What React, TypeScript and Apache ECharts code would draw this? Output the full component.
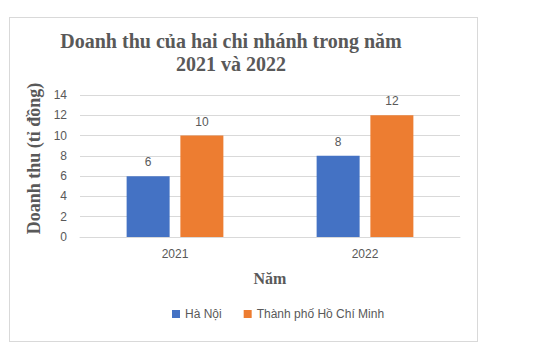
import React, { useEffect, useRef } from "react";
import * as echarts from "echarts";

const categories = ["2021", "2022"];
const haNoi = [6, 8];
const hcm = [10, 12];
const seriesNames = ["Hà Nội", "Thành phố Hồ Chí Minh"];
const titleText = "Doanh thu của hai chi nhánh trong năm\n2021 và 2022";
const yAxisName = "Doanh thu (tỉ đồng)";
const xAxisName = "Năm";

const gray = "#595959";
const sans = "'Liberation Sans', Arial, sans-serif";
const serif = "'Liberation Serif', 'Times New Roman', serif";

export default function App() {
  const ref = useRef<HTMLDivElement>(null);
  useEffect(() => {
    if (!ref.current) return;
    const chart = echarts.init(ref.current, undefined, { renderer: "svg" });
    chart.setOption({
      animation: false,
      backgroundColor: "#ffffff",
      graphic: [
        {
          type: "text",
          x: 221,
          y: 11,
          style: {
            text: titleText,
            align: "center",
            verticalAlign: "top",
            font: `bold 20px ${serif}`,
            lineHeight: 23,
            fill: gray,
          },
        },
        {
          type: "text",
          x: 23.5,
          y: 140.5,
          rotation: Math.PI / 2,
          style: {
            text: yAxisName,
            align: "center",
            verticalAlign: "middle",
            font: `bold 18px ${serif}`,
            fill: gray,
          },
        },
      ],
      legend: {
        left: 157,
        top: 285,
        itemWidth: 8,
        itemHeight: 8,
        itemGap: 22,
        icon: "rect",
        textStyle: { fontFamily: sans, fontSize: 12, color: gray },
        data: seriesNames,
      },
      grid: { left: 70, right: 17, top: 77, bottom: 104 },
      xAxis: {
        type: "category",
        data: categories,
        name: xAxisName,
        nameLocation: "middle",
        nameGap: 33,
        nameTextStyle: { fontFamily: serif, fontWeight: "bold", fontSize: 16, color: gray },
        axisLine: { lineStyle: { color: "#d9d9d9" } },
        axisTick: { show: false },
        axisLabel: { fontFamily: sans, fontSize: 12, color: gray, margin: 11 },
      },
      yAxis: {
        type: "value",
        min: 0,
        max: 14,
        interval: 2,
        axisLine: { show: false },
        axisTick: { show: false },
        axisLabel: { fontFamily: sans, fontSize: 12, color: gray, margin: 13 },
        splitLine: { lineStyle: { color: "#d9d9d9" } },
      },
      series: [
        {
          name: seriesNames[0],
          type: "bar",
          data: haNoi,
          barWidth: 43,
          barGap: "25%",
          itemStyle: { color: "#4472c4" },
          label: { show: true, position: "top", distance: 8, fontFamily: sans, fontSize: 12, color: gray },
        },
        {
          name: seriesNames[1],
          type: "bar",
          data: hcm,
          barWidth: 43,
          barGap: "25%",
          itemStyle: { color: "#ed7d31" },
          label: { show: true, position: "top", distance: 8, fontFamily: sans, fontSize: 12, color: gray },
        },
      ],
    });
    return () => chart.dispose();
  }, []);
  return (
    <div
      style={{
        position: "absolute",
        left: 9,
        top: 17,
        width: 469,
        height: 325,
        boxSizing: "border-box",
        border: "1px solid #d9d9d9",
        background: "#fff",
      }}
    >
      <div ref={ref} style={{ width: 467, height: 323 }} />
    </div>
  );
}
